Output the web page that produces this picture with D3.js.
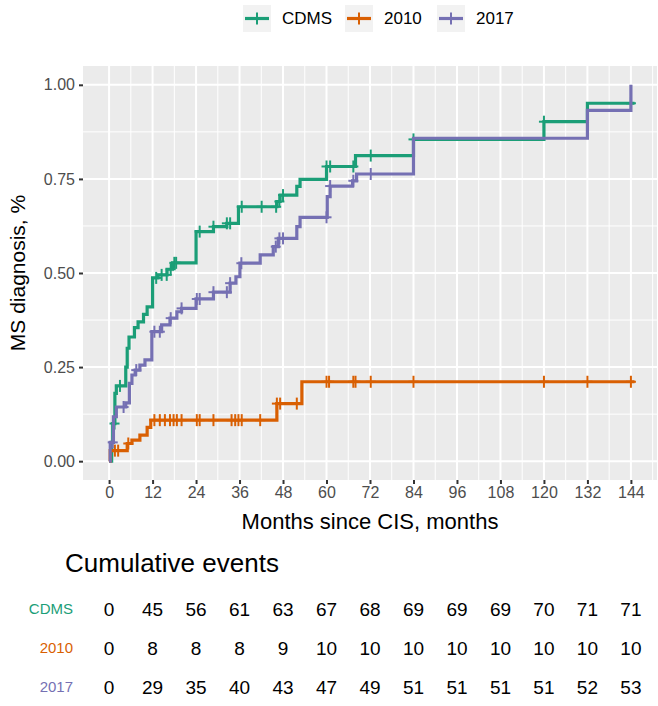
<!DOCTYPE html>
<html><head><meta charset="utf-8">
<script src="https://cdn.jsdelivr.net/npm/d3@7"></script>
<style>body{margin:0;background:#fff}svg{display:block}text{font-family:"Liberation Sans",Arial,sans-serif}</style>
</head><body><svg id="c" width="658" height="706"></svg>
<script>
const seriesNames = ["CDMS","2010","2017"];
const seriesColors = ["#1B9E77","#D95F02","#7570B3"];
// step change points [month, cumulative probability]
const cdmsSteps = [[0,0],[0.7,0.05],[1.0,0.10],[1.6,0.18],[2.0,0.20],[4.6,0.25],[5.0,0.30],[5.5,0.33],[7.0,0.355],[8.0,0.37],[9.5,0.39],[10.5,0.41],[12,0.487],[13.5,0.495],[16,0.51],[17.5,0.527],[24,0.61],[28.8,0.623],[32.5,0.632],[35.7,0.676],[46.3,0.69],[47.2,0.707],[51.8,0.73],[52.7,0.749],[60,0.783],[68,0.812],[84,0.855],[120,0.902],[132,0.951],[145,0.951]];
const y2010Steps = [[0,0],[0.3,0.028],[5.0,0.047],[6.3,0.056],[8.5,0.069],[10.5,0.09],[11.5,0.109],[46.3,0.153],[53.2,0.211],[145,0.211]];
const y2017Steps = [[0,0],[0.3,0.05],[1.2,0.118],[2.0,0.144],[4.6,0.155],[5.6,0.207],[6.3,0.229],[7.2,0.242],[8.5,0.255],[9.9,0.269],[11.8,0.344],[14.5,0.362],[16.8,0.38],[18.7,0.397],[20,0.406],[24,0.431],[28.8,0.449],[33.4,0.473],[35,0.49],[36.1,0.526],[41.7,0.548],[45.3,0.57],[46.7,0.592],[51.8,0.623],[52.7,0.648],[60.2,0.703],[61,0.731],[67.2,0.745],[68.3,0.763],[84,0.858],[132,0.932],[144,1.0]];
// censoring times (months)
const cdmsCensor = [1.5,3,13,14.5,15.9,17,18,18.5,25,28.8,32.5,33.4,36.6,42.1,46.1,47,48,60,61,67.4,72.2,84,120,144];
const y2010Censor = [1.6,2.5,5.3,12.5,14,15.4,16.8,17.8,18.7,20,24.2,25,28.8,33.8,34.8,35.7,36.6,41.7,46.3,47.2,51.8,60,60.7,67.4,68,72.2,84,120,132,144];
const y2017Censor = [1,4,7.5,12.5,14,17,20,24.2,25,28.8,32.5,33.4,36.5,46,47,48,60,61,67.4,72.2];
// table
const tableTimes = [0,12,24,36,48,60,72,84,96,108,120,132,144];
const cdmsEvents = [0,45,56,61,63,67,68,69,69,69,70,71,71];
const y2010Events = [0,8,8,8,9,10,10,10,10,10,10,10,10];
const y2017Events = [0,29,35,40,43,47,49,51,51,51,51,52,53];
const xTicks = [0,12,24,36,48,60,72,84,96,108,120,132,144];
const yTicks = [0,0.25,0.5,0.75,1.0];

const steps = [cdmsSteps,y2010Steps,y2017Steps];
const censors = [cdmsCensor,y2010Censor,y2017Censor];
const events = [cdmsEvents,y2010Events,y2017Events];

const svg = d3.select("#c");
const P = {l:83,r:657,t:66,b:480};
const x = d3.scaleLinear().domain([-7.2,151.2]).range([P.l,P.r]);
const y = d3.scaleLinear().domain([-0.05,1.05]).range([P.b,P.t]);

svg.append("rect").attr("x",P.l).attr("y",P.t).attr("width",P.r-P.l).attr("height",P.b-P.t).attr("fill","#EBEBEB");
const g = svg.append("g");
const xMinor = d3.range(6,151,12), yMinor = [0.125,0.375,0.625,0.875];
g.selectAll(".xm").data(xMinor).join("line").attr("x1",d=>x(d)).attr("x2",d=>x(d)).attr("y1",P.t).attr("y2",P.b).attr("stroke","#fff").attr("stroke-width",1);
g.selectAll(".ym").data(yMinor).join("line").attr("y1",d=>y(d)).attr("y2",d=>y(d)).attr("x1",P.l).attr("x2",P.r).attr("stroke","#fff").attr("stroke-width",1);
g.selectAll(".xg").data(xTicks).join("line").attr("x1",d=>x(d)).attr("x2",d=>x(d)).attr("y1",P.t).attr("y2",P.b).attr("stroke","#fff").attr("stroke-width",2);
g.selectAll(".yg").data(yTicks).join("line").attr("y1",d=>y(d)).attr("y2",d=>y(d)).attr("x1",P.l).attr("x2",P.r).attr("stroke","#fff").attr("stroke-width",2);

const xa = svg.append("g").attr("transform",`translate(0,${P.b})`).call(d3.axisBottom(x).tickValues(xTicks).tickSize(4).tickPadding(3));
const ya = svg.append("g").attr("transform",`translate(${P.l},0)`).call(d3.axisLeft(y).tickValues(yTicks).tickFormat(d3.format(".2f")).tickSize(4).tickPadding(4));
[xa,ya].forEach(a=>{a.select(".domain").remove();a.selectAll("line").attr("stroke","#333").attr("stroke-width",2);a.selectAll("text").attr("fill","#4D4D4D").style("font-size","16px").style("font-family","'Liberation Sans',Arial,sans-serif");});

svg.append("text").attr("x",(P.l+P.r)/2).attr("y",529).attr("text-anchor","middle").style("font-size","22px").attr("fill","#000").text("Months since CIS, months");
svg.append("text").attr("transform",`translate(25,${(P.t+P.b)/2}) rotate(-90)`).attr("text-anchor","middle").style("font-size","21px").attr("fill","#000").text("MS diagnosis, %");

const line = d3.line().x(d=>x(d[0])).y(d=>y(d[1])).curve(d3.curveStepAfter);
function valAt(st,t){let v=0;for(const p of st){if(p[0]<=t)v=p[1];}return v;}
steps.forEach((st,i)=>{
  const cg = svg.append("g");
  cg.append("path").attr("d",line(st)).attr("fill","none").attr("stroke",seriesColors[i]).attr("stroke-width",3.2);
  cg.selectAll("g").data(censors[i]).join("g").attr("transform",d=>`translate(${x(d)},${y(valAt(st,d))})`).each(function(){
    const s=d3.select(this);
    s.append("line").attr("x1",0).attr("x2",0).attr("y1",-6).attr("y2",6).attr("stroke",seriesColors[i]).attr("stroke-width",2);
    s.append("line").attr("x1",-5).attr("x2",5).attr("y1",0).attr("y2",0).attr("stroke",seriesColors[i]).attr("stroke-width",2);
  });
});

const legX = [243,345,437];
seriesNames.forEach((n,i)=>{
  const lg = svg.append("g").attr("transform",`translate(${legX[i]},5)`);
  lg.append("rect").attr("width",28).attr("height",27).attr("fill","#F2F2F2");
  lg.append("line").attr("x1",2).attr("x2",26).attr("y1",13.5).attr("y2",13.5).attr("stroke",seriesColors[i]).attr("stroke-width",3.2);
  lg.append("line").attr("x1",14).attr("x2",14).attr("y1",7.5).attr("y2",19.5).attr("stroke",seriesColors[i]).attr("stroke-width",2);
  lg.append("text").attr("x",39).attr("y",13.5).attr("dy","0.35em").style("font-size","17px").attr("fill","#000").text(n);
});

svg.append("text").attr("x",65).attr("y",572).style("font-size","26px").attr("fill","#000").text("Cumulative events");
const rowY = [609,648,687];
events.forEach((ev,i)=>{
  svg.append("text").attr("x",73).attr("y",rowY[i]).attr("dy","0.35em").attr("text-anchor","end").style("font-size","15px").attr("fill",seriesColors[i]).text(seriesNames[i]);
  svg.append("g").selectAll("text").data(ev).join("text").attr("x",(d,j)=>x(tableTimes[j])).attr("y",rowY[i]).attr("dy","0.35em").attr("text-anchor","middle").style("font-size","19px").attr("fill","#000").text(d=>d);
});
</script></body></html>
